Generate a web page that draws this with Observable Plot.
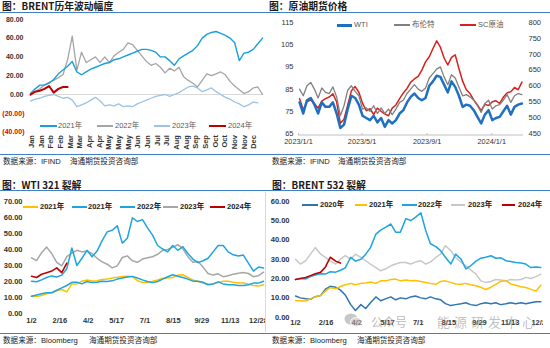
<!DOCTYPE html>
<html><head><meta charset="utf-8">
<script src="https://cdn.jsdelivr.net/npm/d3@7"></script>
<script src="https://cdn.jsdelivr.net/npm/@observablehq/plot@0.6"></script>
<style>
html,body{margin:0;padding:0;background:#fff;}
#root{position:relative;width:550px;height:348px;overflow:hidden;background:#fff;font-family:"Liberation Sans","Noto Sans CJK SC",sans-serif;}
.title{position:absolute;font-family:"Noto Sans CJK SC",sans-serif;font-weight:bold;font-size:9.8px;color:#1a1a1a;line-height:10px;white-space:nowrap;}
.hline{position:absolute;height:1px;background:#3f7fc8;}
.foot{position:absolute;font-family:"Liberation Sans","Noto Sans CJK SC",sans-serif;font-size:7.6px;color:#222;white-space:nowrap;line-height:10px;}
.leg{position:absolute;font-family:"Liberation Sans","Noto Sans CJK SC",sans-serif;font-size:7.5px;white-space:nowrap;line-height:10px;}
</style>
</head><body><div id="root"></div>
<script>
// ---------------- DATA ----------------
// Panel 1: BRENT 历年波动幅度 (values every 5 trading days)
const brentStep = 5;
const brent2021 = [1,6,10,10,12,16,22,26,30,35,24,21,24,27,29,31,33,34,37,38,40,42,44,46,48,48,47,45,40,40,36,31,38,41,44,47,52,60,64,66,67,65,63,60,55,36,44,45,48,54,60];
const brent2022 = [-1,3,6,10,13,15,18,21,37,62,26,45,34,37,40,34,40,34,41,45,48,55,53,47,41,35,31,33,29,23,28,25,29,19,15,12,8,15,22,20,22,24,21,14,9,5,1,3,7,8,0];
const brent2023 = [-7,-5,-4,-2,-1,0,-2,-4,-3,-6,-13,-11,-9,-6,-3,-7,-12,-11,-12,-10,-13,-12,-13,-10,-8,-6,-4,-2,-1,0,-2,0,2,5,8,9,7,3,5,7,3,0,-3,-5,-8,-10,-13,-11,-8,-9];
const brent2024 = [0,3,4,6,9,2,6,8,8];
const monthLabels = ["Jan","Jan","Feb","Feb","Mar","Mar","Apr","Apr","May","May","May","Jun","Jun","Jul","Jul","Aug","Aug","Sep","Sep","Oct","Oct","Nov","Nov","Dec"];
const p1Names = ["2021年","2022年","2023年","2024年"];

// Panel 2: 原油期货价格 (weekly from 2023-01-03)
const priceStart = [2023, 0, 3];
const wti   = [79,74,80,81,78,74,79,77,77,79,74,67.5,69,76,82,81,78,73,72,71,73,70,72,68,71,69.5,71,74,75.5,79,81.5,83,81,80,81,86.5,88.5,91,90.5,87,83.5,88.5,86,82,77,78,77.5,75.5,72.5,69.5,73.5,75.5,71,72,72.5,75,77.5,73.5,77,78,78.5];
const brent = [85,82,86.5,88,85,81,85.5,83.5,83,86,81.5,73,77.5,84.5,86.5,84,82,76,76.5,75,77.5,74,76.5,74,76,73.5,76,79,80,83,85,87,85,84,85.5,90,92,94,95,90.5,87,91.5,90,86,82,82.5,81.5,80,77.5,74.5,78.5,80,76,77.5,78,80,82.5,79,82,83,82.5];
const scCrude = [560,525,550,556,545,530,552,560,565,575,550,482,495,540,585,598,580,545,522,528,510,530,520,512,506,530,540,560,578,592,612,622,630,650,676,692,718,742,722,688,666,690,698,655,615,588,576,556,540,522,542,538,550,553,545,565,578,582,595,588,612];
const leftTicks2 = [65,75,85,95,105,115];
const rightTicks2 = [450,500,550,600,650,700,750,800];
const p2Names = ["WTI","布伦特","SC原油"];

// Panel 3: WTI 321 裂解 (day of year, every 8 days)
const wti321Step = 8;
const wti321_2021a = [10.8,10.6,11.3,12.3,13,14.2,15,13.5,18.5,18.5,20.2,21,20.3,20.5,21.2,21.5,22.2,22.6,23.2,23.3,23,20.5,19.5,19.3,20.2,21,22,22.2,22.5,24,24.2,22.5,21,20,19,18.3,18.5,19.3,20.2,20.2,19.5,19,19,18.3,17.5,17.2,18];
const wti321_2021b = [10.8,11.6,12.3,12.9,13,14.5,16,17.5,19.5,19.6,18.5,20,19.3,19.6,20.2,20,20.4,21.5,22.2,22.8,23.2,22.2,21,20,19.3,20,21.5,23,24.2,23.3,22.5,21.5,20.2,20.2,19.5,18,18.5,19.8,18.5,18,18,17.5,17.5,18,19,19,20.2];
const wti321_2022 = [20.2,19.8,21,22.5,23.5,22.8,24,28,41,30,34.5,39.5,35.5,39,45.5,51,52,54.8,44,47,59.8,57.5,58.7,53.5,49,42.5,40.3,38.5,42.5,39.5,41.8,37.5,34,31.8,33,34.5,38.5,42.5,42.5,38.5,36.7,36,36.5,31.5,26.5,29,28.5];
const wti321_2023 = [34.8,33,38,41.5,37.5,32,29.8,35.5,37.8,39.5,38.5,39,37.5,34.5,32.3,30.8,28.5,29.8,35,36,33,32,34,34.8,35.5,37,39.5,40,41.5,43,40.5,35.5,32,32.5,29,25,24,24.8,23,23.6,24.6,25.2,25.6,25,23,23.6,25.8];
const wti321_2024 = [23.3,22.5,24.5,25.5,26.5,28.5,25.5,31.5];
const p3Names = ["2021年","2021年","2022年","2023年","2024年"];

// Panel 4: BRENT 532 裂解 (day of year)
const b532Days = [2,9,17,24,31,39,46,53,61,68,75,83,90,98,105,112,120,127,134,142,149,156,164,171,178,186,193,200,208,215,222,230,237,245,252,259,267,274,281,289,296,303,311,318,325,333,340,347,355,362];
const b532_2020 = [11,10,9.5,9.3,10.6,11.2,14.5,16,15.5,14,11.5,6.5,3.5,6.5,4.5,7.5,10.5,8.5,9.5,10.5,9,10,9.5,10.5,11,10,9.5,10.5,9.5,9,7,6,6.5,7,7.5,6.5,6,7,7.5,7,7.5,6.5,7,7.5,7,7.5,7,7.5,8,8];
const b532_2021 = [8.5,8.5,8.4,9.5,10.5,11.3,13.5,15.3,14.7,15.9,16.8,17.5,16.8,17.5,17.7,18.2,17.5,18.8,18.8,19.5,19.7,18.8,19.2,18.8,19,18.5,18,17.5,17,18.5,18.8,18,17.2,17,17.5,16.8,16.3,15.5,14.3,15.5,17,18.5,18.8,17.2,16.5,15.8,15.4,14.5,13.5,16.5];
const b532_2022 = [19.5,20,19.8,21,21.8,22.5,22.3,23.5,23.3,24.3,25.5,31,29,30,32.5,36,43,45,46.5,48.2,44,44,51,50,51.6,54,45,38,36.5,34.4,31,27.5,32.6,30,25,26.6,29,30.5,31,31.8,30.5,30.8,29.2,28.8,28.3,28,27.5,25.7,26,25.7];
const b532_2023 = [30,27.5,29.2,32.6,36,32.6,30.9,29,27.5,30,31.8,30,32.6,30.9,29.2,27.5,25.7,24,24.9,26.6,27.5,28.3,28.3,27.5,28.5,29.2,27.5,28.5,30.9,32.6,37,34.4,30.9,28.5,26.5,24.5,22.3,18.8,18,18.5,19.5,19.2,18.8,19.5,19.2,19.5,20.6,20,21,22.3];
const b532_2024 = [19.5,20,20.5,21.5,22.5,23.3,26,31,29,28];
const p4Names = ["2020年","2021年","2022年","2023年","2024年"];

const crackTickDays = [2,47,92,137,182,227,272,317,362];
const crackTickLabels = ["1/2","2/16","4/2","5/17","7/1","8/15","9/29","11/13","12/28"];

// ---------------- LAYOUT HELPERS ----------------
const root = document.getElementById("root");
function div(cls, css, text) {
  const d = document.createElement("div");
  if (cls) d.className = cls;
  d.style.cssText += css;
  if (text != null) d.textContent = text;
  root.append(d);
  return d;
}
function place(svg, left, top, w, h) {
  const d = div("", `position:absolute;left:${left}px;top:${top}px;width:${w}px;height:${h}px;overflow:hidden;`);
  d.append(svg);
}
function legend(items, yc, color, weight) {
  for (const it of items) {
    const w = it.w || 1.5;
    div("", `position:absolute;left:${it.x1}px;top:${yc - w/2}px;width:${it.x2 - it.x1}px;height:${w}px;background:${it.c};`);
    div("leg", `left:${it.tx}px;top:${yc - 5.5}px;color:${color};font-weight:${weight};`, it.label);
  }
}
const baseStyle = {fontFamily: "Liberation Sans, Noto Sans CJK SC, sans-serif", fontSize: "8px", background: "transparent", overflow: "hidden"};
const ln = (rows, color, w) => Plot.line(rows, {x: "x", y: "y", stroke: color, strokeWidth: w, strokeLinejoin: "round"});
const rowsIdx = (vals, step) => vals.map((v, i) => ({x: i * step, y: v}));
const rowsX = (vals, xs) => vals.map((v, i) => ({x: xs[i], y: v}));

// ---------------- TITLES / RULES / FOOTERS ----------------
div("title", "left:2px;top:1px;", "图：BRENT历年波动幅度");
div("title", "left:269px;top:1px;", "图：原油期货价格");
div("title", "left:2px;top:180px;", "图：WTI 321 裂解");
div("title", "left:272px;top:180px;", "图：BRENT 532 裂解");
div("hline", "left:0;top:12px;width:550px;");
div("hline", "left:0;top:190px;width:550px;");
div("hline", "left:0;top:154px;width:550px;");
div("hline", "left:0;top:333px;width:550px;");
div("foot", "left:3px;top:157px;", "数据来源：IFIND");
div("foot", "left:70px;top:157px;", "海通期货投资咨询部");
div("foot", "left:272px;top:157px;", "数据来源：IFIND");
div("foot", "left:338px;top:157px;", "海通期货投资咨询部");
div("foot", "left:3px;top:335.5px;", "数据来源：Bloomberg");
div("foot", "left:89px;top:335.5px;", "海通期货投资咨询部");
div("foot", "left:272px;top:335.5px;", "数据来源：Bloomberg");
div("foot", "left:357px;top:335.5px;", "海通期货投资咨询部");

// ---------------- PANEL 1 ----------------
const monthStep = 10.42;
const monthTicks = monthLabels.map((_, i) => 1 + i * monthStep);
const p1Colors = ["#1a9fdc", "#a5a5a5", "#9cc2e5", "#c00000"];
const p1 = Plot.plot({
  width: 272, height: 140,
  marginLeft: 30, marginRight: 10, marginTop: 4.8, marginBottom: 22.4,
  x: {domain: [0, 250]},
  y: {domain: [-40, 80]},
  style: {...baseStyle, overflow: "visible"},
  marks: [
    Plot.ruleY([0], {stroke: "#d9d9d9", strokeWidth: 1}),
    Plot.axisY({ticks: [0,20,40,60,80], tickSize: 0, tickPadding: 7, tickFormat: d => d.toFixed(2), fontWeight: "bold", fontSize: 7, fill: "#333", label: null}),
    Plot.axisY({ticks: [-40,-20], tickSize: 0, tickPadding: 6, tickFormat: d => `(${Math.abs(d).toFixed(2)})`, fontWeight: "bold", fontSize: 7, fill: "#e00000", label: null}),
    Plot.axisX({ticks: monthTicks, tickFormat: d => monthLabels[Math.round((d - 1) / monthStep)], tickRotate: -90, tickSize: 0, tickPadding: 3, fontSize: 7.5, fontWeight: "bold", fill: "#333", label: null}),
    ln(rowsIdx(brent2023, brentStep), p1Colors[2], 1.3),
    ln(rowsIdx(brent2022, brentStep), p1Colors[1], 1.3),
    ln(rowsIdx(brent2021, brentStep), p1Colors[0], 1.4),
    ln(rowsIdx(brent2024, brentStep), p1Colors[3], 2)
  ]
});
place(p1, 0, 14, 272, 140);
legend([
  {x1: 40, x2: 57, c: p1Colors[0], tx: 58, label: p1Names[0]},
  {x1: 97, x2: 113, c: p1Colors[1], tx: 115, label: p1Names[1]},
  {x1: 154, x2: 170, c: p1Colors[2], tx: 172, label: p1Names[2]},
  {x1: 209, x2: 226, c: p1Colors[3], w: 2, tx: 228, label: p1Names[3]}
], 126, "#595959", "normal");

// ---------------- PANEL 2 ----------------
const weekStart = new Date(Date.UTC(...priceStart));
const weeks = wti.map((_, i) => d3.utcDay.offset(weekStart, 7 * i));
const scToLeft = v => 65 + (v - 450) / 7;
const leftToSc = v => 450 + (v - 65) * 7;
const p2Colors = ["#1f70c1", "#808080", "#d9201c"];
const p2 = Plot.plot({
  width: 275, height: 140,
  marginLeft: 23, marginRight: 27, marginTop: 8, marginBottom: 21,
  x: {type: "utc", domain: [new Date(Date.UTC(2023,0,1)), new Date(Date.UTC(2024,2,1))]},
  y: {domain: [65, 115]},
  style: {...baseStyle, overflow: "visible"},
  marks: [
    Plot.ruleY([65], {stroke: "#bfbfbf", strokeWidth: 1, dy: 1.5}),
    Plot.axisX({ticks: [Date.UTC(2023,0,1), Date.UTC(2023,4,1), Date.UTC(2023,8,1), Date.UTC(2024,0,1)].map(t => new Date(t)),
      tickFormat: d => `${d.getUTCFullYear()}/${d.getUTCMonth()+1}/${d.getUTCDate()}`,
      tickSize: 2, tickPadding: 3, stroke: "#bfbfbf", fontSize: 7.3, fill: "#333", label: null}),
    Plot.axisY({ticks: leftTicks2, tickSize: 0, tickPadding: 5, fontSize: 7.5, fill: "#333", label: null}),
    Plot.axisY({anchor: "right", ticks: rightTicks2.map(scToLeft), tickFormat: d => String(Math.round(leftToSc(d))), tickSize: 0, tickPadding: 5, fontSize: 7.5, fill: "#333", label: null}),
    ln(rowsX(scCrude.map(scToLeft), weeks), p2Colors[2], 1.5),
    ln(rowsX(brent, weeks), p2Colors[1], 1.3),
    ln(rowsX(wti, weeks), p2Colors[0], 2.5)
  ]
});
place(p2, 275, 14, 275, 140);
legend([
  {x1: 337, x2: 352, c: p2Colors[0], w: 3, tx: 354, label: p2Names[0]},
  {x1: 394, x2: 410, c: p2Colors[1], tx: 412, label: p2Names[1]},
  {x1: 460, x2: 476, c: p2Colors[2], tx: 478, label: p2Names[2]}
], 25, "#595959", "normal");

// ---------------- PANEL 3 ----------------
const p3Colors = ["#ffc000", "#1ea5e0", "#1ea5e0", "#a6a6a6", "#c00000"];
const days321 = wti321_2022.map((_, i) => 2 + i * wti321Step);
const tickLabelOf = new Map(crackTickDays.map((d, i) => [d, crackTickLabels[i]]));
const p3 = Plot.plot({
  width: 266, height: 140,
  marginLeft: 31, marginRight: 1.7, marginTop: 9, marginBottom: 19,
  x: {domain: [2, 372]},
  y: {domain: [0, 70]},
  style: baseStyle,
  marks: [
    Plot.axisY({ticks: [0,10,20,30,40,50,60,70], tickSize: 0, tickPadding: 9, tickFormat: d => d.toFixed(2), fontWeight: "bold", fontSize: 7.5, fill: "#333", label: null}),
    Plot.axisX({ticks: crackTickDays, tickFormat: d => tickLabelOf.get(d), tickSize: 0, tickPadding: 4, fontWeight: "bold", fontSize: 7.5, fill: "#333", label: null}),
    ln(rowsX(wti321_2023, days321), p3Colors[3], 1.5),
    ln(rowsX(wti321_2021a, days321), p3Colors[0], 1.5),
    ln(rowsX(wti321_2021b, days321), p3Colors[1], 1.5),
    ln(rowsX(wti321_2022, days321), p3Colors[2], 1.5),
    ln(rowsX(wti321_2024, days321), p3Colors[4], 1.6)
  ]
});
place(p3, 0, 192, 266, 140);
legend([
  {x1: 23, x2: 38, c: p3Colors[0], tx: 40, label: p3Names[0]},
  {x1: 72, x2: 87, c: p3Colors[1], tx: 88, label: p3Names[1]},
  {x1: 120, x2: 135, c: p3Colors[2], tx: 137, label: p3Names[2]},
  {x1: 163, x2: 178, c: p3Colors[3], tx: 180, label: p3Names[3]},
  {x1: 210, x2: 225, c: p3Colors[4], tx: 227, label: p3Names[4]}
], 207, "#222", "bold");

// ---------------- PANEL 4 ----------------
div("", "position:absolute;left:265px;top:192px;width:1px;height:140px;background:#d9d9d9;");
const p4Colors = ["#2e75b6", "#ffc000", "#1ea5e0", "#c8c8c8", "#c00000"];
const p4 = Plot.plot({
  width: 277, height: 140,
  marginLeft: 29, marginRight: 0, marginTop: 8.7, marginBottom: 15.3,
  x: {domain: [2, 366]},
  y: {domain: [0, 60]},
  style: baseStyle,
  marks: [
    Plot.axisY({ticks: [0,10,20,30,40,50,60], tickSize: 0, tickPadding: 6, tickFormat: d => d.toFixed(2), fontWeight: "bold", fontSize: 7.5, fill: "#333", label: null}),
    Plot.axisX({ticks: crackTickDays, tickFormat: d => tickLabelOf.get(d), tickSize: 0, tickPadding: 2.5, fontWeight: "bold", fontSize: 7.5, fill: "#333", label: null}),
    ln(rowsX(b532_2023, b532Days), p4Colors[3], 1.5),
    ln(rowsX(b532_2020, b532Days), p4Colors[0], 1.5),
    ln(rowsX(b532_2021, b532Days), p4Colors[1], 1.5),
    ln(rowsX(b532_2022, b532Days), p4Colors[2], 1.5),
    ln(rowsX(b532_2024, b532Days), p4Colors[4], 1.6)
  ]
});
place(p4, 266, 192, 277, 140);
legend([
  {x1: 302, x2: 318, c: p4Colors[0], tx: 320, label: p4Names[0]},
  {x1: 355, x2: 367, c: p4Colors[1], tx: 369, label: p4Names[1]},
  {x1: 402, x2: 417, c: p4Colors[2], tx: 418, label: p4Names[2]},
  {x1: 451, x2: 465, c: p4Colors[3], tx: 468, label: p4Names[3]},
  {x1: 502, x2: 515, c: p4Colors[4], tx: 518, label: p4Names[4]}
], 205, "#222", "bold");

// watermark
const wm = div("", "position:absolute;left:344px;top:313px;width:18px;height:14px;opacity:0.55;");
wm.innerHTML = '<svg width="18" height="14"><ellipse cx="7" cy="6" rx="6.5" ry="5.5" fill="#9a9a9a"/><ellipse cx="12" cy="9" rx="5.5" ry="4.5" fill="#b5b5b5" stroke="#fff" stroke-width="0.8"/></svg>';
div("", "position:absolute;left:371px;top:314px;font-family:'Noto Sans CJK SC',sans-serif;font-size:12px;line-height:16px;color:rgba(140,140,140,0.6);white-space:nowrap;", "公众号");
div("", "position:absolute;left:416px;top:314px;font-family:'Noto Sans CJK SC',sans-serif;font-size:12px;line-height:16px;color:rgba(140,140,140,0.6);", "·");
div("", "position:absolute;left:437px;top:313px;font-family:'Noto Sans CJK SC',sans-serif;font-size:13px;letter-spacing:4px;line-height:17px;color:rgba(140,140,140,0.55);white-space:nowrap;", "能源研发中心");
</script></body></html>
